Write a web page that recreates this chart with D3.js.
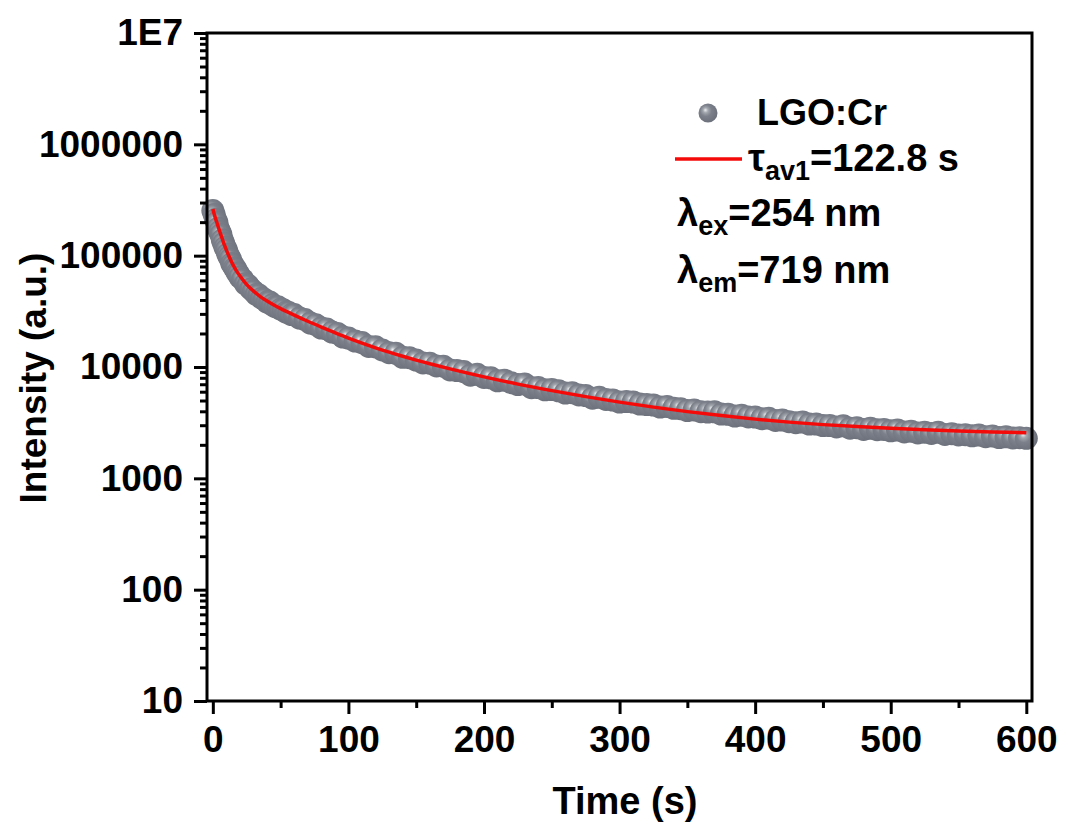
<!DOCTYPE html>
<html>
<head>
<meta charset="utf-8">
<script src="https://cdn.jsdelivr.net/npm/d3@7"></script>
<style>
  body { margin: 0; background: #fff; }
  text { font-family: 'Liberation Sans', Arial, sans-serif; font-weight: bold; fill: #000; }
</style>
</head>
<body>
<svg id="chart"></svg>
<script>
// measured decay (s, a.u.)
const times = [0,1,2,3,4,5,6,7,8,9,10,11,12,13,14,15,16,17,18,19,20,
  22,24,26,28,30,32,34,36,38,40,42,44,46,48,50,52,54,56,58,60,
  64,68,72,76,80,84,88,92,96,100,
  105,110,115,120,125,130,135,140,145,150,155,160,165,170,175,180,185,190,195,200,
  205,210,215,220,225,230,235,240,245,250,255,260,265,270,275,280,285,290,295,300,
  305,310,315,320,325,330,335,340,345,350,355,360,365,370,375,380,385,390,395,400,
  405,410,415,420,425,430,435,440,445,450,455,460,465,470,475,480,485,490,495,500,
  505,510,515,520,525,530,535,540,545,550,555,560,565,570,575,580,585,590,595,600];
const intensity = [254000,234000,211000,199300,176200,164700,154600,138200,129100,118900,112900,103400,97700,93200,85000,82300,77400,75300,70100,68300,64300,
  61100,55800,54100,50200,48100,44800,44300,41500,40600,38300,38400,36200,34800,34800,33100,32700,31100,30900,29600,29600,
  27500,26700,24800,24000,22400,22000,20600,20000,18600,18200,
  17090,16570,15300,15190,14220,13440,13290,12220,12120,11530,10880,10820,10220,10170,9417,9301,9092,8439,8598,8064,
  7991,7520,7607,7232,6948,7049,6517,6543,6239,6265,6112,5840,5876,5615,5534,5244,5343,5116,5052,4838,
  4888,4838,4642,4594,4546,4370,4426,4255,4220,4057,4117,3966,3942,3958,3774,3759,3629,3689,3562,3547,
  3431,3460,3313,3340,3231,3165,3198,3069,3069,2975,2981,2896,2962,2819,2854,2748,2814,2737,2747,2672,
  2712,2613,2653,2557,2595,2529,2596,2479,2517,2454,2469,2409,2449,2364,2403,2321,2362,2304,2320,2287];

// fitted curve
const fitTime = [0,1,2,3,4,5,6,7,8,9,10,12,14,16,18,20,25,30,35,40,45,50,55,60,70,80,90,100,110,120,130,140,150,160,175,
  200,225,250,275,300,325,350,375,400,425,450,475,500,525,550,575,600];
const fitIntensity = [262200,236500,215400,198300,180700,166400,153100,141000,129800,120700,112300,98160,86700,78180,71200,65570,
  55000,48080,42910,39090,35990,33470,31270,29260,25750,22830,20330,18180,16400,14880,13580,12480,11530,10710,9614,
  8148,7020,6137,5421,4838,4362,3974,3659,3403,3198,3037,2914,2814,2733,2666,2611,2563];

// ticks
const xTicks = [0,100,200,300,400,500,600];
const xMinor = [50,150,250,350,450,550];
const yTicks = [10,100,1000,10000,100000,1000000,10000000];
const yTickLabels = ['10','100','1000','10000','100000','1000000','1E7'];

const W = 1073, H = 825;
const pLeft = 207, pRight = 1032, pTop = 33, pBottom = 701;

const svg = d3.select('#chart')
    .attr('width', W)
    .attr('height', H);

svg.append('rect').attr('width', W).attr('height', H).attr('fill', '#fff');

const x = d3.scaleLinear().domain([-4.3, 604.2]).range([pLeft, pRight]);
const y = d3.scaleLog().domain([10, 1e7]).range([pBottom, pTop]);

// sphere look for the markers
const defs = svg.append('defs');
const grad = defs.append('radialGradient')
    .attr('id', 'ball')
    .attr('cx', '0.42').attr('cy', '0.42').attr('r', '0.6')
    .attr('fx', '0.36').attr('fy', '0.34');
grad.append('stop').attr('offset', '0%').attr('stop-color', '#eceef0');
grad.append('stop').attr('offset', '22%').attr('stop-color', '#a3a7ae');
grad.append('stop').attr('offset', '50%').attr('stop-color', '#7b808a');
grad.append('stop').attr('offset', '100%').attr('stop-color', '#6b707a');

const data = times.map((t, i) => ({t: t, v: intensity[i]}));
const fit = fitTime.map((t, i) => ({t: t, v: fitIntensity[i]}));

svg.append('g')
    .selectAll('circle')
    .data(data)
    .enter()
    .append('circle')
    .attr('cx', d => x(d.t))
    .attr('cy', d => y(d.v))
    .attr('r', 11.5)
    .attr('fill', 'url(#ball)');

const line = d3.line()
    .x(d => x(d.t))
    .y(d => y(d.v))
    .curve(d3.curveMonotoneX);

svg.append('path')
    .datum(fit)
    .attr('d', line)
    .attr('fill', 'none')
    .attr('stroke', '#f50a0a')
    .attr('stroke-width', 3.5);

// axes
svg.append('g')
    .attr('transform', `translate(0,${pBottom})`)
    .call(d3.axisBottom(x).tickValues(xTicks).tickSize(13).tickPadding(12).tickFormat(d3.format('d')));
svg.append('g')
    .attr('transform', `translate(0,${pBottom})`)
    .call(d3.axisBottom(x).tickValues(xMinor).tickSize(7).tickFormat(''));

const yMinor = [];
yTicks.slice(0, -1).forEach(d => { for (let k = 2; k < 10; k++) yMinor.push(d * k); });

svg.append('g')
    .attr('transform', `translate(${pLeft},0)`)
    .call(d3.axisLeft(y).tickValues(yTicks).tickSize(13).tickPadding(11)
        .tickFormat((d, i) => yTickLabels[i]));
svg.append('g')
    .attr('transform', `translate(${pLeft},0)`)
    .call(d3.axisLeft(y).tickValues(yMinor).tickSize(7).tickFormat(''));

svg.selectAll('.domain').remove();
svg.selectAll('.tick line').attr('stroke', '#000').attr('stroke-width', 3);
svg.selectAll('.tick text').attr('font-size', 37).attr('fill', '#000');

// frame
svg.append('rect')
    .attr('x', pLeft).attr('y', pTop)
    .attr('width', pRight - pLeft).attr('height', pBottom - pTop)
    .attr('fill', 'none')
    .attr('stroke', '#000')
    .attr('stroke-width', 3);

// titles
svg.append('text')
    .attr('x', 625)
    .attr('y', 814)
    .attr('text-anchor', 'middle')
    .attr('font-size', 38)
    .text('Time (s)');

svg.append('text')
    .attr('transform', 'translate(46,378) rotate(-90)')
    .attr('text-anchor', 'middle')
    .attr('font-size', 37)
    .text('Intensity (a.u.)');

// legend
const legend = svg.append('g');
legend.append('circle').attr('cx', 708).attr('cy', 113).attr('r', 9.5).attr('fill', 'url(#ball)');
legend.append('text').attr('x', 757).attr('y', 125).attr('font-size', 36).text('LGO:Cr');
legend.append('line')
    .attr('x1', 675).attr('x2', 742).attr('y1', 159).attr('y2', 159)
    .attr('stroke', '#f50a0a').attr('stroke-width', 3.5);

const rows = [
  {x: 748, y: 171, main: 'τ', sub: 'av1', rest: '=122.8 s'},
  {x: 677, y: 226, main: 'λ', sub: 'ex', rest: '=254 nm'},
  {x: 677, y: 283, main: 'λ', sub: 'em', rest: '=719 nm'}
];
rows.forEach(r => {
  const t = legend.append('text').attr('x', r.x).attr('y', r.y).attr('font-size', 38);
  t.append('tspan').text(r.main);
  t.append('tspan').attr('font-size', 27).attr('dy', 9).text(r.sub);
  t.append('tspan').attr('dy', -9).text(r.rest);
});
</script>
</body>
</html>
